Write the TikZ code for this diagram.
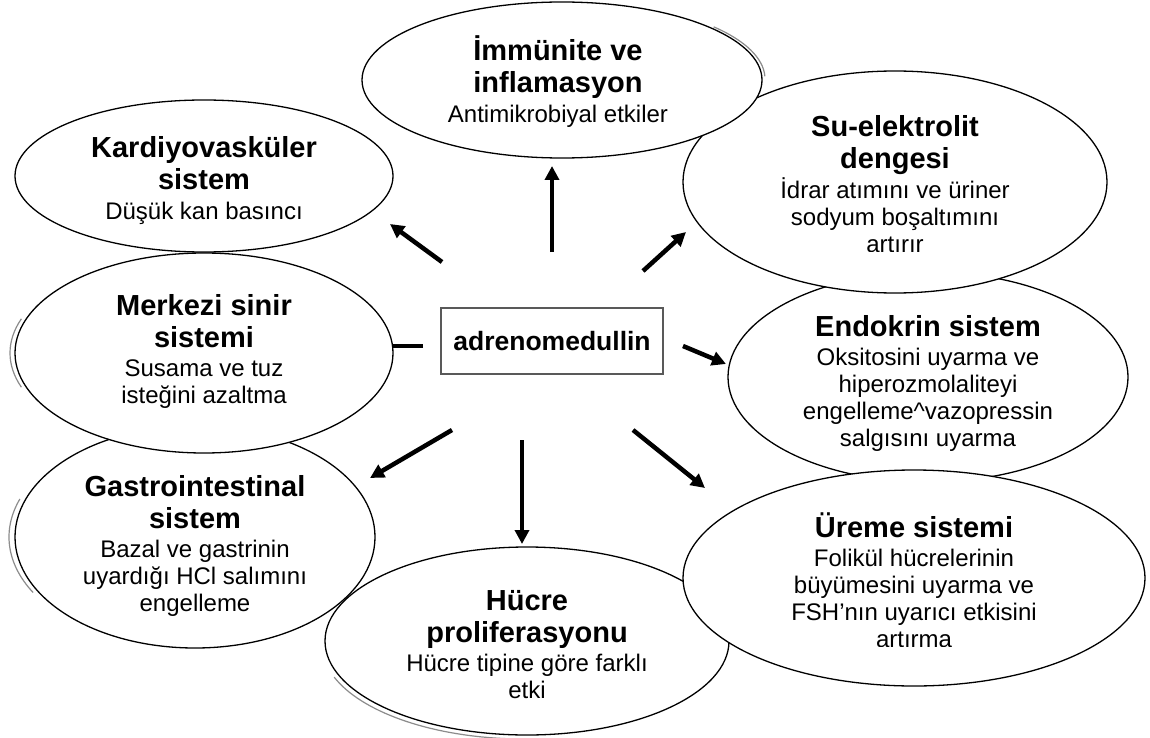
\documentclass[tikz,border=0pt]{standalone}
\usepackage{fontspec}
\setmainfont{Liberation Sans}
\usetikzlibrary{arrows.meta,shapes.geometric}
\pgfdeclarelayer{bg}
\pgfsetlayers{bg,main}
\newcommand{\ttlf}{\fontsize{29}{32}\bfseries\selectfont}
\newcommand{\bodyf}{\fontsize{24}{27}\selectfont}
\newcommand{\ovtext}[2]{\centering\spaceskip=0pt\xspaceskip=0pt{\ttlf #1\par}\vspace{2.5pt}{\bodyf #2\par}}
\begin{document}
\begin{tikzpicture}[x=1pt,y=-1pt,
  blob/.style={ellipse, draw=black, line width=1.3pt, fill=white, inner sep=0pt},
  txt/.style={anchor=base, text width=420pt, inner sep=0pt},
  conn/.style={line width=4.5pt, -{Triangle[length=14pt,width=14pt]}},
  plainconn/.style={line width=4.5pt},
  shadowline/.style={draw=black!45, line width=1.2pt},
  box/.style={draw=black!65, line width=1.5pt, fill=white, minimum width=222pt, minimum height=66pt, inner sep=0pt, font=\fontsize{26.5}{30}\bfseries\selectfont}]
\useasboundingbox (0,0) rectangle (1150,738);
\begin{pgfonlayer}{bg}
\fill[white] (0,0) rectangle (1150,738);
\end{pgfonlayer}

% shadows (offset outlines)
\draw[shadowline] (199,353) ++(160:189 and 100) arc[start angle=160, end angle=200, x radius=189, y radius=100];
\draw[shadowline] (189,537) ++(150:180 and 111) arc[start angle=150, end angle=200, x radius=180, y radius=111];
\draw[shadowline] (524,645) ++(95:202 and 94) arc[start angle=95, end angle=160, x radius=202, y radius=94];
\draw[shadowline] (565,79) ++(318:200 and 78) arc[start angle=318, end angle=358, x radius=200, y radius=78];

% ellipses (back to front)
\node[blob, minimum width=400pt, minimum height=210pt] (endo) at (928,377) {};
\node[txt] (endo-t) at (928,336) {\ovtext{Endokrin sistem}{Oksitosini uyarma ve\\hiperozmolaliteyi\\engelleme\textasciicircum vazopressin\\salgısını uyarma}};

\node[blob, minimum width=424pt, minimum height=222pt] (su) at (895,182) {};
\begin{scope}
\clip (0,0) rectangle (1150,251);
\node[txt] (su-t) at (895,137) {\ovtext{Su-elektrolit\\dengesi}{İdrar atımını ve üriner\\sodyum boşaltımını\\artırır}};
\end{scope}

\node[blob, minimum width=400pt, minimum height=156pt] (imm) at (562,80) {};
\node[txt] (imm-t) at (558,61) {\ovtext{İmmünite ve\\inflamasyon}{Antimikrobiyal etkiler}};

\node[blob, minimum width=360pt, minimum height=222pt] (gast) at (195,537) {};
\node[txt] (gast-t) at (195,496) {\ovtext{Gastrointestinal\\sistem}{Bazal ve gastrinin\\uyardığı HCl salımını\\engelleme}};

\begin{pgfonlayer}{bg}
\coordinate (mS) at (423,346);
\draw[plainconn] (mS) -- (mS -| 300,0);
\end{pgfonlayer}
\node[blob, minimum width=378pt, minimum height=200pt] (merk) at (204,353) {};
\node[txt] (merk-t) at (204,315) {\ovtext{Merkezi sinir\\sistemi}{Susama ve tuz\\isteğini azaltma}};

\node[blob, minimum width=378pt, minimum height=152pt] (kard) at (204,176) {};
\node[txt] (kard-t) at (204,158) {\ovtext{Kardiyovasküler\\sistem}{Düşük kan basıncı}};

\node[blob, minimum width=404pt, minimum height=188pt] (hucre) at (527,641) {};
\node[txt] (hucre-t) at (527,610) {\ovtext{Hücre\\proliferasyonu}{Hücre tipine göre farklı\\etki}};

\node[blob, minimum width=462pt, minimum height=216pt] (ureme) at (914,578) {};
\begin{scope}
\clip (0,0) rectangle (1150,646);
\node[txt] (ureme-t) at (914,537) {\ovtext{Üreme sistemi}{Folikül hücrelerinin\\büyümesini uyarma ve\\FSH’nın uyarıcı etkisini\\artırma}};
\end{scope}

% central box
\node[box] (adm) at (552,341) {adrenomedullin};

% arrows
\coordinate (upS) at (552,252); \coordinate (upE) at (552,166);
\coordinate (kaS) at (442,262); \coordinate (kaE) at (390,224);
\coordinate (suS) at (643,271); \coordinate (suE) at (686,232);
\coordinate (enS) at (683,346); \coordinate (enE) at (726,364);
\coordinate (gaS) at (452,430); \coordinate (gaE) at (370,478);
\coordinate (dnS) at (522,440); \coordinate (dnE) at (522,544);
\coordinate (urS) at (633,430); \coordinate (urE) at (705,488);
\draw[conn] (upS) -- (upE);
\draw[conn] (kaS) -- (kaE);
\draw[conn] (suS) -- (suE);
\draw[conn] (enS) -- (enE);
\draw[conn] (gaS) -- (gaE);
\draw[conn] (dnS) -- (dnE);
\draw[conn] (urS) -- (urE);
\end{tikzpicture}
\end{document}
